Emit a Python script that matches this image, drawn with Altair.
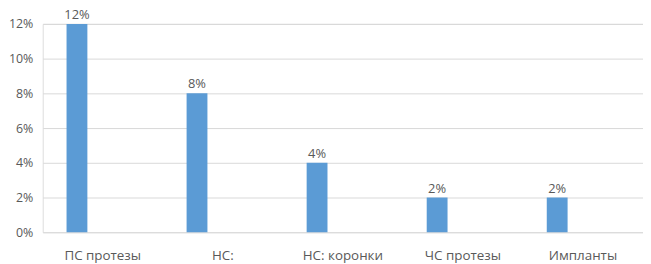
import altair as alt
import pandas as pd

categories = ["ПС протезы", "НС:", "НС: коронки", "ЧС протезы", "Импланты"]
values = [0.12, 0.08, 0.04, 0.02, 0.02]
labels = ["12%", "8%", "4%", "2%", "2%"]

df = pd.DataFrame({"cat": categories, "val": values, "lab": labels})

FONT = "Open Sans"
GRAY = "#595959"

x = alt.X("cat:N", sort=categories, title=None,
          scale=alt.Scale(paddingInner=0, paddingOuter=0),
          axis=alt.Axis(labelAngle=0, ticks=False, domain=False, labelPadding=16,
                        labelFont=FONT, labelFontSize=13.5, labelColor=GRAY))
y = alt.Y("val:Q", title=None,
          scale=alt.Scale(domain=[0, 0.12], nice=False),
          axis=alt.Axis(format=".0%", values=[0, 0.02, 0.04, 0.06, 0.08, 0.10, 0.12],
                        ticks=False, domain=False, labelPadding=10, labelOverlap=False,
                        labelFont=FONT, labelFontSize=12.5, labelColor=GRAY,
                        gridColor="#d9d9d9", gridWidth=1))

bars = alt.Chart(df).mark_bar(color="#5B9BD5", width=21, xOffset=-26).encode(x=x, y=y)
text = alt.Chart(df).mark_text(font=FONT, fontSize=13, color=GRAY, dy=-2, xOffset=-26,
                               baseline="bottom").encode(x=x, y=y, text="lab:N")

chart = alt.layer(bars, text).properties(
    width=605, height=210,
    autosize=alt.AutoSizeParams(type="none"),
    padding={"left": 35, "top": 15, "right": 0, "bottom": 31},
).configure_view(stroke=None).configure(background="white")

chart.save("out.html", embed_options={"renderer": "svg", "actions": False})
